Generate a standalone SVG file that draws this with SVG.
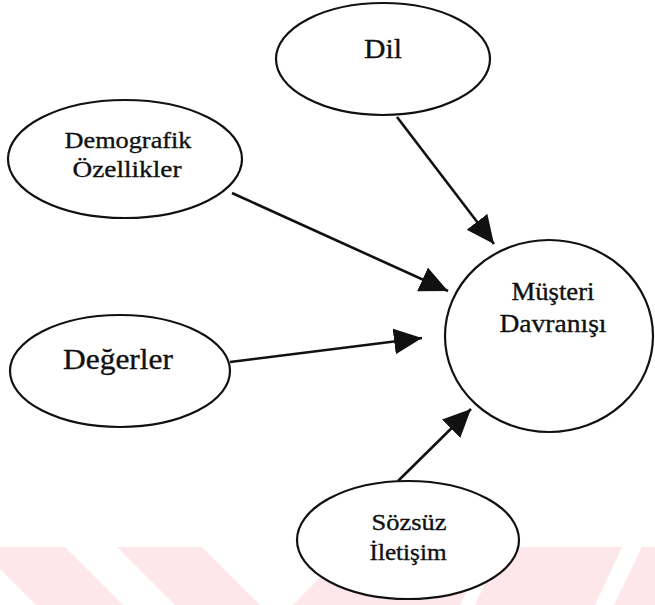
<svg xmlns="http://www.w3.org/2000/svg" width="655" height="605" viewBox="0 0 655 605">
  <defs>
    <style>
      .node { fill: #ffffff; stroke: #111111; stroke-width: 2.2; }
      .label { font-family: "Liberation Serif", "Times New Roman", serif; fill: #111111; stroke: #111111; stroke-width: 0.35; text-anchor: middle; }
      .link { stroke: #111111; stroke-width: 2.6; fill: none; marker-end: url(#head); }
      .band { fill: #fde7eb; }
    </style>
    <marker id="head" markerUnits="userSpaceOnUse" markerWidth="30" markerHeight="28" refX="28" refY="13" orient="auto">
      <path d="M0,0 L28,13 L0,26 z" fill="#111111"/>
    </marker>
  </defs>

  <rect width="655" height="605" fill="#ffffff"/>

  <!-- pale striped band along the bottom edge -->
  <g id="stripes">
    <polygon class="band" points="-22,547 65,547 123,605 36,605"/>
    <polygon class="band" points="117,547 202,547 260,605 175,605"/>
    <polygon class="band" points="350,547 487,547 460,605 293,605"/>
    <polygon class="band" points="502,547 622,547 595,605 475,605"/>
    <polygon class="band" points="642,547 660,547 660,605 614,605"/>
  </g>

  <!-- connectors -->
  <g id="connectors">
    <line class="link" x1="397" y1="117" x2="494" y2="244"/>
    <line class="link" x1="232" y1="193" x2="448" y2="291"/>
    <line class="link" x1="230" y1="362" x2="422" y2="338"/>
    <line class="link" x1="398" y1="481" x2="471" y2="409"/>
  </g>

  <g id="dil">
    <ellipse class="node" cx="383" cy="59" rx="107" ry="56"/>
    <text class="label" x="383" y="58" font-size="28" textLength="38" lengthAdjust="spacingAndGlyphs">Dil</text>
  </g>

  <g id="demografik">
    <ellipse class="node" cx="125" cy="159" rx="117" ry="59"/>
    <text class="label" x="128" y="148" font-size="24" textLength="127" lengthAdjust="spacingAndGlyphs">Demografik</text>
    <text class="label" x="127" y="177" font-size="24" textLength="109" lengthAdjust="spacingAndGlyphs">Özellikler</text>
  </g>

  <g id="degerler">
    <ellipse class="node" cx="120" cy="371" rx="110" ry="56"/>
    <text class="label" x="118" y="369" font-size="30" textLength="110" lengthAdjust="spacingAndGlyphs">Değerler</text>
  </g>

  <g id="musteri">
    <ellipse class="node" cx="549" cy="336" rx="104" ry="96"/>
    <text class="label" x="553" y="300" font-size="25" textLength="83" lengthAdjust="spacingAndGlyphs">Müşteri</text>
    <text class="label" x="553" y="332" font-size="25" textLength="107" lengthAdjust="spacingAndGlyphs">Davranışı</text>
  </g>

  <g id="sozsuz">
    <ellipse class="node" cx="408" cy="540" rx="111" ry="59"/>
    <text class="label" x="409" y="530" font-size="23" textLength="75" lengthAdjust="spacingAndGlyphs">Sözsüz</text>
    <text class="label" x="408" y="560" font-size="23" textLength="77" lengthAdjust="spacingAndGlyphs">İletişim</text>
  </g>
</svg>
